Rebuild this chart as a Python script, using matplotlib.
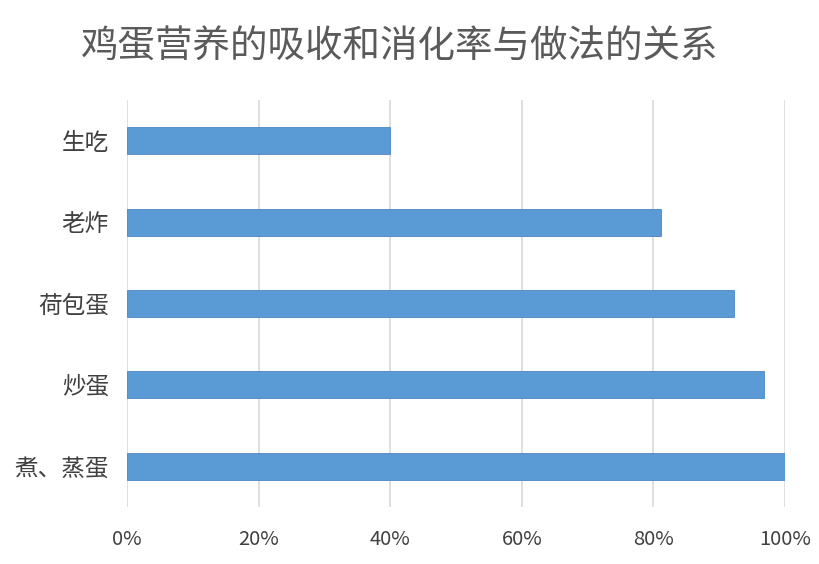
import matplotlib
matplotlib.use('Agg')
import matplotlib.pyplot as plt
from matplotlib.ticker import FuncFormatter

plt.rcParams['font.family'] = ['Noto Sans CJK SC', 'DejaVu Sans']

# data (top to bottom)
methods = ['生吃', '老炸', '荷包蛋', '炒蛋', '煮、蒸蛋']
absorption = [40, 81.1, 92.2, 96.8, 100]
x_ticks = [0, 20, 40, 60, 80, 100]

fig = plt.figure(figsize=(8.2, 5.64), dpi=100)
ax = fig.add_axes([0.1549, 0.101, 0.8024, 0.7217])

ypos = list(range(len(methods)))
ax.barh(ypos, absorption, height=0.33, color='#5B9BD5',
        edgecolor='#4A86C2', linewidth=0.6, zorder=3)

ax.set_xlim(0, 100)
ax.set_ylim(len(methods) - 0.5, -0.5)
ax.set_yticks(ypos)
ax.set_yticklabels(methods, fontsize=17, color='#404040')
ax.set_xticks(x_ticks)
ax.xaxis.set_major_formatter(FuncFormatter(lambda v, p: f'{v:.0f}%'))
for lab in ax.get_xticklabels():
    lab.set_fontsize(14.5)
    lab.set_color('#404040')

ax.grid(axis='x', color='#D9D9D9', linewidth=1.2, zorder=0)
ax.tick_params(axis='y', length=0, pad=13)
ax.tick_params(axis='x', length=0, pad=16)
for s in ax.spines.values():
    s.set_visible(False)

fig.text(0.488, 0.917, '鸡蛋营养的吸收和消化率与做法的关系', ha='center',
         va='center', fontsize=27, color='#5A5A5A', fontweight='light')

fig.savefig('out.png', dpi=100, facecolor='white')
